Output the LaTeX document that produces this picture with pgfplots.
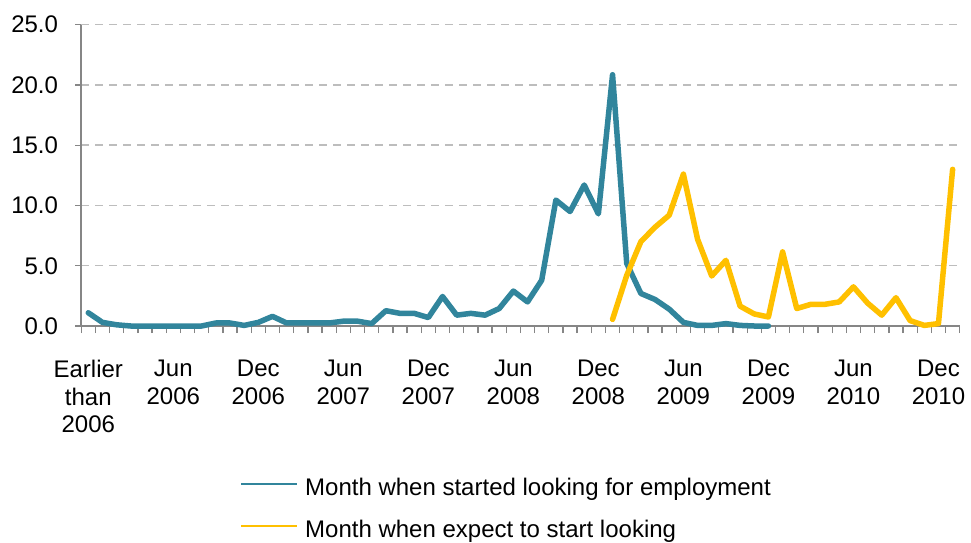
\documentclass[border=0pt]{standalone}
\usepackage{fontspec}
\setmainfont{Liberation Sans}
\usepackage{pgfplots}
\pgfplotsset{compat=1.18}
\definecolor{seriesBlue}{HTML}{31859C}
\definecolor{seriesGold}{HTML}{FFC000}
\definecolor{gridGray}{HTML}{BDBDBD}
\definecolor{axisGray}{HTML}{868686}

\newcommand{\tickfont}{\fontsize{24}{27.5}\selectfont}

\begin{document}
\begin{tikzpicture}
\begin{axis}[
  scale only axis,
  width=878.5pt, height=301.3pt,
  xmin=-0.5, xmax=61.5,
  ymin=0, ymax=25,
  clip=false,
  axis x line=bottom, axis y line=left,
  axis line style={-, draw=axisGray, line width=1.5pt},
  tick align=outside,
  major tick length=6pt, minor tick length=7pt,
  tick style={draw=axisGray, line width=1.3pt},
  every major x tick/.append style={draw=none},
  xtick={0,6,...,60},
  minor xtick={-0.5,0.5,...,61.5},
  xticklabels={{Earlier\\than\\2006},{Jun\\2006},{Dec\\2006},{Jun\\2007},{Dec\\2007},{Jun\\2008},{Dec\\2008},{Jun\\2009},{Dec\\2009},{Jun\\2010},{Dec\\2010}},
  xticklabel style={font=\tickfont, align=center, anchor=north, inner sep=0pt, yshift=-28pt},
  ytick={0,5,...,25},
  yticklabel style={font=\tickfont, anchor=east, inner sep=0pt, xshift=-17pt,
    /pgf/number format/fixed, /pgf/number format/fixed zerofill,
    /pgf/number format/precision=1, /pgf/number format/assume math mode=true},
  ymajorgrids,
  major grid style={draw=gridGray, line width=1.5pt, dash pattern=on 8pt off 6pt},
  legend style={draw=none, fill=none, at={(158.8pt,-152pt)}, anchor=north west,
    inner sep=0pt, row sep=23pt, column sep=7pt,
    nodes={inner sep=0pt}, font=\tickfont,
    cells={anchor=west}},
  legend image code/.code={\draw[#1, line width=2pt, line cap=butt] (0pt,0.35em) -- (56pt,0.35em);},
]
\addplot[seriesBlue, line width=5.5pt, line join=round, line cap=round] coordinates {
  (0,1.1) (1,0.3) (2,0.1) (3,0.0) (4,0.0) (5,0.0) (6,0.0) (7,0.0) (8,0.0)
  (9,0.25) (10,0.25) (11,0.05) (12,0.3) (13,0.8) (14,0.25) (15,0.25) (16,0.25)
  (17,0.25) (18,0.4) (19,0.4) (20,0.2) (21,1.27) (22,1.05) (23,1.05) (24,0.7)
  (25,2.45) (26,0.9) (27,1.05) (28,0.9) (29,1.45) (30,2.9) (31,2.0) (32,3.8)
  (33,10.45) (34,9.5) (35,11.7) (36,9.3) (37,20.85) (38,5.2) (39,2.7) (40,2.2)
  (41,1.4) (42,0.3) (43,0.05) (44,0.05) (45,0.2) (46,0.05) (47,0.0) (48,0.0)
};
\addlegendentry{Month when started looking for employment}
\addplot[seriesGold, line width=5.5pt, line join=round, line cap=round] coordinates {
  (37,0.55) (38,4.2) (39,7.0) (40,8.2) (41,9.2) (42,12.6) (43,7.2) (44,4.15)
  (45,5.45) (46,1.65) (47,1.0) (48,0.75) (49,6.15) (50,1.45) (51,1.8) (52,1.8)
  (53,2.0) (54,3.25) (55,1.9) (56,0.9) (57,2.35) (58,0.45) (59,0.05) (60,0.2)
  (61,13.0)
};
\addlegendentry{Month when expect to start looking}
\end{axis}
\pgfresetboundingbox
\path[use as bounding box] (-81.2pt,-216pt) rectangle (889.8pt,326pt);
\end{tikzpicture}
\end{document}
